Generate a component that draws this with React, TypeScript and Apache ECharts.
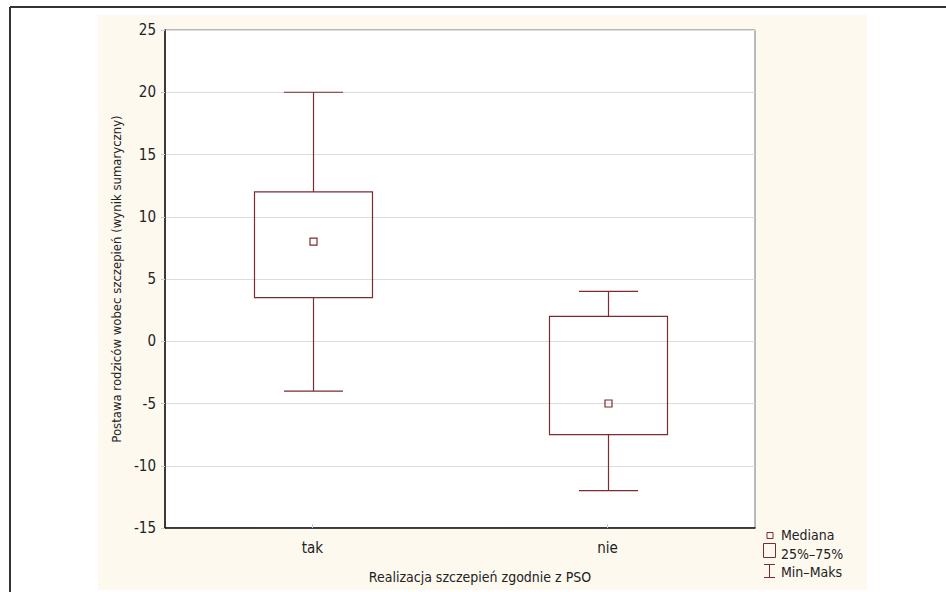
import React, { useEffect, useRef } from "react";
import * as echarts from "echarts";

const categories = ["tak", "nie"];
const minValues = [-4, -12];
const q1Values = [3.5, -7.5];
const medianValues = [8, -5];
const q3Values = [12, 2];
const maxValues = [20, 4];
const yTicks = { min: -15, max: 25, interval: 5 };
const legendLabels = ["Mediana", "25%–75%", "Min–Maks"];
const yTitle = "Postawa rodziców wobec szczepień (wynik sumaryczny)";
const xTitle = "Realizacja szczepień zgodnie z PSO";

const DARK = "#7d2a33";
const FONT = '"Liberation Sans Narrow", "DejaVu Sans Condensed", "Roboto", sans-serif';

export default function App() {
  const ref = useRef<HTMLDivElement>(null);
  useEffect(() => {
    if (!ref.current) return;
    const chart = echarts.init(ref.current, null, { renderer: "svg" });
    const data = categories.map((c, i) => [i, minValues[i], q1Values[i], medianValues[i], q3Values[i], maxValues[i]]);
    chart.setOption({
      animation: false,
      textStyle: { fontFamily: FONT },
      graphic: [
        { type: "rect", z: -10, shape: { x: 98, y: 15, width: 769, height: 575 }, style: { fill: "#fdf9ef" } },
        { type: "line", z: 100, shape: { x1: 10, y1: 7, x2: 946, y2: 7 }, style: { stroke: "#333", lineWidth: 2 } },
        { type: "line", z: 100, shape: { x1: 10, y1: 7, x2: 10, y2: 592 }, style: { stroke: "#333", lineWidth: 2 } },
        // legend
        { type: "rect", shape: { x: 767, y: 532.5, width: 6, height: 6 }, style: { fill: "none", stroke: DARK, lineWidth: 1 } },
        { type: "rect", shape: { x: 763.5, y: 543.5, width: 12, height: 14 }, style: { fill: "none", stroke: DARK, lineWidth: 1 } },
        { type: "line", shape: { x1: 769.5, y1: 564, x2: 769.5, y2: 577 }, style: { stroke: DARK, lineWidth: 1 } },
        { type: "line", shape: { x1: 764, y1: 564.5, x2: 775, y2: 564.5 }, style: { stroke: DARK, lineWidth: 1 } },
        { type: "line", shape: { x1: 764, y1: 577.5, x2: 775, y2: 577.5 }, style: { stroke: DARK, lineWidth: 1 } },
        ...legendLabels.map((t, i) => ({
          type: "text",
          x: 781,
          y: 535 + i * 18.5,
          style: { text: t, fill: "#222", font: `14px ${FONT}`, verticalAlign: "middle" },
        })),
        {
          type: "text",
          x: 480,
          y: 577,
          style: { text: xTitle, fill: "#222", font: `14px ${FONT}`, align: "center", verticalAlign: "middle" },
        },
      ],
      grid: {
        left: 165,
        top: 30,
        width: 590,
        height: 498,
        show: true,
        backgroundColor: "#ffffff",
        borderColor: "#777",
        borderWidth: 1,
      },
      xAxis: {
        type: "category",
        data: categories,
        boundaryGap: true,
        axisLine: { show: true, onZero: false, lineStyle: { color: "#111", width: 1.5 } },
        axisTick: { show: true, inside: true, alignWithLabel: true, length: 4, lineStyle: { color: "#ccc" } },
        axisLabel: { color: "#222", fontSize: 15, margin: 12, fontFamily: FONT },
        splitLine: { show: false },
      },
      yAxis: {
        type: "value",
        min: yTicks.min,
        max: yTicks.max,
        interval: yTicks.interval,
        name: yTitle,
        nameLocation: "middle",
        nameGap: 36,
        nameTextStyle: { color: "#222", fontSize: 13, fontFamily: FONT },
        axisLine: { show: true, onZero: false, lineStyle: { color: "#111", width: 1.5 } },
        axisTick: { show: true, length: 4, lineStyle: { color: "#ccc" } },
        axisLabel: { color: "#222", fontSize: 15, margin: 9, fontFamily: FONT },
        splitLine: { show: true, lineStyle: { color: "#dcdcdc", width: 1 } },
      },
      series: [
        {
          type: "custom",
          data,
          encode: { x: 0, y: [1, 2, 3, 4, 5] },
          renderItem: (params: any, api: any) => {
            const idx = api.value(0);
            const band = api.size([1, 0])[0];
            const boxW = band * 0.4;
            const capW = band * 0.2;
            const pMin = api.coord([idx, api.value(1)]);
            const pQ1 = api.coord([idx, api.value(2)]);
            const pMed = api.coord([idx, api.value(3)]);
            const pQ3 = api.coord([idx, api.value(4)]);
            const pMax = api.coord([idx, api.value(5)]);
            const cx = Math.round(pMed[0]) + 0.5;
            const st = { stroke: DARK, lineWidth: 1.2, fill: "none" };
            return {
              type: "group",
              children: [
                { type: "rect", shape: { x: cx - boxW / 2, y: pQ3[1], width: boxW, height: pQ1[1] - pQ3[1] }, style: st },
                { type: "line", shape: { x1: cx, y1: pQ3[1], x2: cx, y2: pMax[1] }, style: st },
                { type: "line", shape: { x1: cx, y1: pQ1[1], x2: cx, y2: pMin[1] }, style: st },
                { type: "line", shape: { x1: cx - capW / 2, y1: pMax[1], x2: cx + capW / 2, y2: pMax[1] }, style: st },
                { type: "line", shape: { x1: cx - capW / 2, y1: pMin[1], x2: cx + capW / 2, y2: pMin[1] }, style: st },
                { type: "rect", shape: { x: cx - 3.5, y: pMed[1] - 3.5, width: 7, height: 7 }, style: st },
              ],
            };
          },
        },
      ],
    });
    return () => chart.dispose();
  }, []);
  return (
    <div
      ref={ref}
      style={{ position: "fixed", left: 0, top: 0, width: 946, height: 592, background: "#ffffff" }}
    />
  );
}
